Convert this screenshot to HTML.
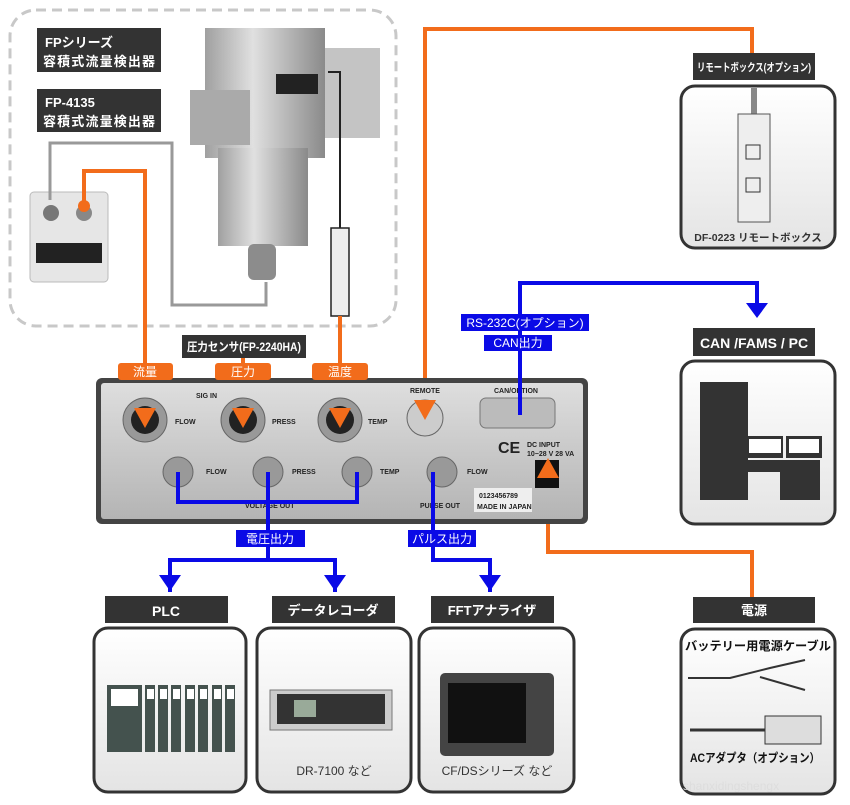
<!DOCTYPE html>
<html><head><meta charset="utf-8"><style>
body{margin:0;background:#fff}
svg text{font-family:"Liberation Sans","Noto Sans CJK JP",sans-serif}
</style></head><body>
<svg width="850" height="800" viewBox="0 0 850 800" xmlns="http://www.w3.org/2000/svg">
<defs>
<linearGradient id="bx" x1="0" y1="0" x2="0" y2="1"><stop offset="0" stop-color="#fff"/><stop offset="1" stop-color="#e4e4e4"/></linearGradient>
<linearGradient id="mt" x1="0" y1="0" x2="1" y2="0"><stop offset="0" stop-color="#a0a0a0"/><stop offset=".4" stop-color="#e0e0e0"/><stop offset="1" stop-color="#8a8a8a"/></linearGradient>
<linearGradient id="pn" x1="0" y1="0" x2="0" y2="1"><stop offset="0" stop-color="#dedede"/><stop offset="1" stop-color="#b4b4b4"/></linearGradient>
</defs>
<rect x="10" y="10" width="386" height="316" rx="26" fill="none" stroke="#c8c8c8" stroke-width="3" stroke-dasharray="10 6"/>
<rect x="37" y="28" width="124" height="44" fill="#333"/>
<text x="45" y="47" font-size="13" font-weight="bold" fill="#fff">FPシリーズ</text>
<text x="43" y="66" font-size="13" font-weight="bold" fill="#fff" textLength="112">容積式流量検出器</text>
<rect x="37" y="89" width="124" height="43" fill="#333"/>
<text x="45" y="107" font-size="13" font-weight="bold" fill="#fff">FP-4135</text>
<text x="43" y="126" font-size="13" font-weight="bold" fill="#fff" textLength="112">容積式流量検出器</text>
<rect x="30" y="192" width="78" height="90" rx="4" fill="#e6e6e6" stroke="#bbb"/>
<rect x="36" y="243" width="66" height="20" fill="#222"/>
<circle cx="51" cy="213" r="8" fill="#777"/><circle cx="84" cy="213" r="8" fill="#888"/>
<polyline points="50,200 50,143 172,143 172,305 266,305 266,282" fill="none" stroke="#999" stroke-width="3"/>
<rect x="205" y="28" width="120" height="130" fill="url(#mt)"/>
<rect x="190" y="90" width="60" height="55" fill="#aaa"/>
<rect x="325" y="48" width="55" height="90" fill="#c4c4c4"/>
<rect x="218" y="148" width="90" height="98" fill="url(#mt)"/>
<rect x="248" y="244" width="28" height="36" rx="6" fill="#8c8c8c"/>
<rect x="276" y="74" width="42" height="20" fill="#222"/>
<polyline points="328,72 340,72 340,228" fill="none" stroke="#222" stroke-width="2"/>
<rect x="331" y="228" width="18" height="88" fill="#eee" stroke="#222" stroke-width="1.5"/>
<g fill="none" stroke="#f26c1b" stroke-width="4">
<polyline points="84,208 84,171 145,171 145,410"/>
<line x1="243" y1="358" x2="243" y2="410"/>
<line x1="340" y1="316" x2="340" y2="410"/>
<polyline points="425,410 425,29 752,29 752,53"/>
<polyline points="548,470 548,552 752,552 752,597"/>
</g>
<circle cx="84" cy="206" r="6" fill="#f26c1b"/>
<rect x="96" y="378" width="492" height="146" rx="6" fill="#444"/>
<rect x="101" y="383" width="482" height="136" rx="3" fill="url(#pn)"/>
<g fill="#999" stroke="#666"><circle cx="145" cy="420" r="22"/><circle cx="243" cy="420" r="22"/><circle cx="340" cy="420" r="22"/><circle cx="425" cy="418" r="18" fill="#ccc"/>
<circle cx="178" cy="472" r="15"/><circle cx="268" cy="472" r="15"/><circle cx="357" cy="472" r="15"/><circle cx="442" cy="472" r="15"/></g>
<g fill="#222"><circle cx="145" cy="420" r="14"/><circle cx="243" cy="420" r="14"/><circle cx="340" cy="420" r="14"/></g>
<rect x="480" y="398" width="75" height="30" rx="6" fill="#bbb" stroke="#777"/>
<rect x="535" y="460" width="24" height="28" fill="#111"/>
<rect x="474" y="488" width="58" height="24" fill="#eee"/>
<g font-size="7" font-weight="bold" fill="#222"><text x="196" y="398">SIG IN</text><text x="175" y="424">FLOW</text><text x="272" y="424">PRESS</text><text x="368" y="424">TEMP</text><text x="410" y="393">REMOTE</text><text x="494" y="393">CAN/OPTION</text><text x="206" y="474">FLOW</text><text x="292" y="474">PRESS</text><text x="380" y="474">TEMP</text><text x="467" y="474">FLOW</text><text x="245" y="508">VOLTAGE OUT</text><text x="420" y="508">PULSE OUT</text><text x="527" y="447">DC INPUT</text><text x="527" y="456">10−28 V 28 VA</text><text x="479" y="498">0123456789</text><text x="477" y="509">MADE IN JAPAN</text></g>
<text x="498" y="453" font-size="16" font-weight="bold" fill="#222">CE</text>
<g fill="#f26c1b"><rect x="118" y="363" width="55" height="17" rx="3"/><rect x="215" y="363" width="56" height="17" rx="3"/><rect x="312" y="363" width="56" height="17" rx="3"/></g>
<g font-size="12" fill="#fff" text-anchor="middle"><text x="145" y="376">流量</text><text x="243" y="376">圧力</text><text x="340" y="376">温度</text></g>
<g fill="#f26c1b"><polygon points="134,408 156,408 145,428"/><polygon points="232,408 254,408 243,428"/><polygon points="329,408 351,408 340,428"/><polygon points="414,400 436,400 425,420"/><polygon points="537,478 559,478 548,458"/></g>
<rect x="182" y="335" width="124" height="23" fill="#333"/>
<text x="187" y="351" font-size="12" font-weight="bold" fill="#fff" textLength="114" lengthAdjust="spacingAndGlyphs">圧力センサ(FP-2240HA)</text>
<g fill="none" stroke="#0a0ae6" stroke-width="4">
<polyline points="520,415 520,283 757,283 757,305"/>
<polyline points="178,472 178,502 357,502 357,472"/>
<polyline points="268,472 268,560"/>
<polyline points="170,592 170,560 335,560 335,592"/>
<polyline points="433,472 433,560 490,560 490,592"/>
</g>
<g fill="#0a0ae6"><polygon points="746,303 768,303 757,318"/><polygon points="159,575 181,575 170,591"/><polygon points="324,575 346,575 335,591"/><polygon points="479,575 501,575 490,591"/></g>
<rect x="461" y="314" width="128" height="17" fill="#0a0ae6"/><text x="525" y="327" font-size="12" fill="#fff" text-anchor="middle">RS-232C(オプション)</text>
<rect x="484" y="335" width="68" height="16" fill="#0a0ae6"/><text x="518" y="347" font-size="12" fill="#fff" text-anchor="middle">CAN出力</text>
<rect x="236" y="530" width="69" height="17" fill="#0a0ae6"/><text x="270" y="543" font-size="12" fill="#fff" text-anchor="middle">電圧出力</text>
<rect x="408" y="530" width="68" height="17" fill="#0a0ae6"/><text x="442" y="543" font-size="12" fill="#fff" text-anchor="middle">パルス出力</text>
<rect x="693" y="53" width="122" height="27" fill="#333"/><text x="697" y="71" font-size="11" font-weight="bold" fill="#fff" textLength="114" lengthAdjust="spacingAndGlyphs">リモートボックス(オプション)</text>
<rect x="681" y="86" width="154" height="162" rx="14" fill="url(#bx)" stroke="#333" stroke-width="3"/>
<rect x="751" y="88" width="6" height="26" fill="#888"/>
<rect x="738" y="114" width="32" height="108" fill="#eee" stroke="#555"/>
<rect x="746" y="145" width="14" height="14" fill="none" stroke="#333"/><rect x="746" y="178" width="14" height="14" fill="none" stroke="#333"/>
<text x="758" y="241" font-size="10.5" font-weight="bold" fill="#333" text-anchor="middle">DF-0223 リモートボックス</text>
<rect x="693" y="328" width="122" height="28" fill="#333"/><text x="754" y="348" font-size="14" font-weight="bold" fill="#fff" text-anchor="middle">CAN /FAMS / PC</text>
<rect x="681" y="361" width="154" height="163" rx="14" fill="url(#bx)" stroke="#333" stroke-width="3"/>
<g fill="#333"><rect x="700" y="382" width="48" height="118"/><rect x="748" y="460" width="72" height="12"/><rect x="780" y="472" width="40" height="28"/><rect x="745" y="436" width="38" height="22"/><rect x="786" y="436" width="36" height="22"/></g>
<g fill="#fff"><rect x="749" y="439" width="32" height="14"/><rect x="789" y="439" width="30" height="14"/></g>
<rect x="693" y="597" width="122" height="26" fill="#333"/><text x="754" y="615" font-size="13" font-weight="bold" fill="#fff" text-anchor="middle">電源</text>
<rect x="681" y="629" width="154" height="165" rx="14" fill="url(#bx)" stroke="#333" stroke-width="3"/>
<text x="685" y="650" font-size="12" font-weight="bold" fill="#111" textLength="146" lengthAdjust="spacingAndGlyphs">バッテリー用電源ケーブル</text>
<polyline points="688,678 730,678 770,668 805,660" fill="none" stroke="#333" stroke-width="2"/>
<polyline points="760,677 805,690" fill="none" stroke="#333" stroke-width="2"/>
<rect x="765" y="716" width="56" height="28" fill="#ddd" stroke="#333"/>
<line x1="690" y1="730" x2="765" y2="730" stroke="#333" stroke-width="3"/>
<text x="690" y="762" font-size="12" font-weight="bold" fill="#111" textLength="130" lengthAdjust="spacingAndGlyphs">ACアダプタ（オプション）</text>
<text x="683" y="790" font-size="12" fill="#ddd">shanxidingshengx</text>
<rect x="105" y="596" width="123" height="27" fill="#333"/><text x="166" y="616" font-size="14" font-weight="bold" fill="#fff" text-anchor="middle">PLC</text>
<rect x="272" y="596" width="123" height="27" fill="#333"/><text x="333" y="615" font-size="13" font-weight="bold" fill="#fff" text-anchor="middle">データレコーダ</text>
<rect x="431" y="596" width="123" height="27" fill="#333"/><text x="492" y="615" font-size="13" font-weight="bold" fill="#fff" text-anchor="middle">FFTアナライザ</text>
<rect x="94" y="628" width="152" height="164" rx="14" fill="url(#bx)" stroke="#333" stroke-width="3"/>
<rect x="257" y="628" width="154" height="164" rx="14" fill="url(#bx)" stroke="#333" stroke-width="3"/>
<rect x="419" y="628" width="155" height="164" rx="14" fill="url(#bx)" stroke="#333" stroke-width="3"/>
<g fill="#44524e"><rect x="107" y="685" width="35" height="67"/><rect x="145" y="685" width="10" height="67"/><rect x="158" y="685" width="10" height="67"/><rect x="171" y="685" width="10" height="67"/><rect x="185" y="685" width="10" height="67"/><rect x="198" y="685" width="10" height="67"/><rect x="212" y="685" width="10" height="67"/><rect x="225" y="685" width="10" height="67"/></g>
<g fill="#fff"><rect x="111" y="689" width="27" height="17"/><rect x="147" y="689" width="7" height="10"/><rect x="160" y="689" width="7" height="10"/><rect x="173" y="689" width="7" height="10"/><rect x="187" y="689" width="7" height="10"/><rect x="200" y="689" width="7" height="10"/><rect x="214" y="689" width="7" height="10"/><rect x="227" y="689" width="7" height="10"/></g>
<rect x="270" y="690" width="122" height="40" fill="#ccc" stroke="#777"/><rect x="277" y="694" width="108" height="30" fill="#333"/><rect x="294" y="700" width="22" height="17" fill="#9a9"/>
<text x="334" y="775" font-size="12" fill="#333" text-anchor="middle">DR-7100 など</text>
<rect x="440" y="673" width="114" height="83" rx="5" fill="#444"/><rect x="448" y="683" width="78" height="60" fill="#111"/>
<text x="497" y="775" font-size="12" fill="#333" text-anchor="middle">CF/DSシリーズ など</text>
</svg>
</body></html>
